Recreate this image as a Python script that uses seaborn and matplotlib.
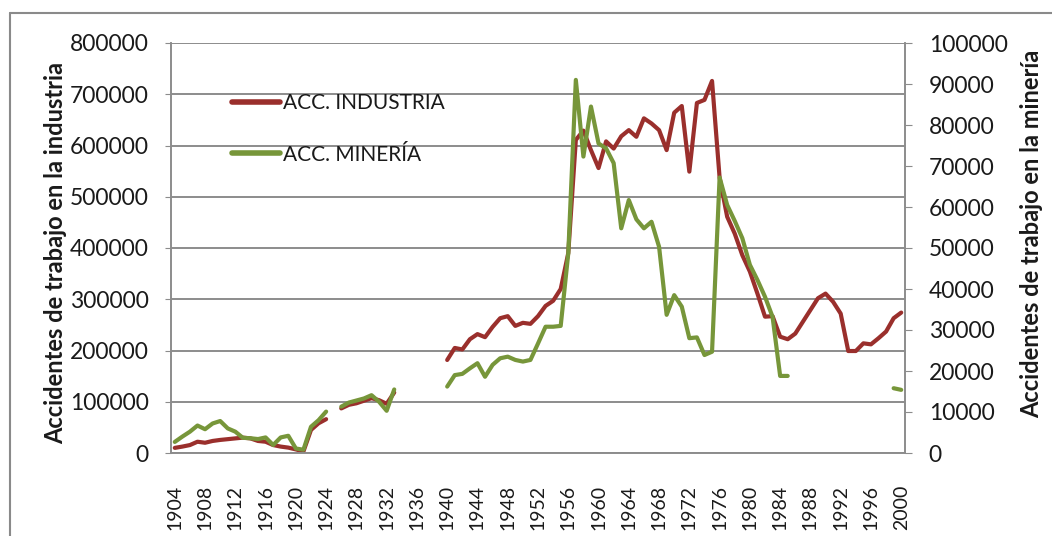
import numpy as np
import pandas as pd
import matplotlib
matplotlib.use('Agg')
import matplotlib.pyplot as plt
from matplotlib.lines import Line2D
import seaborn as sns

# data (NaN = no data)
years = list(range(1904, 2001))

industria = [
    10000, 12500, 15500, 22000, 20000, 23500, 25500, 27000, 28500, 30000,   # 1904-1913
    28500, 23500, 22000, 15500, 12500, 10500, 7000, 3000, 45000, 58000,     # 1914-1923
    66000, np.nan, 87000, 94000, 97000, 102000, 107000, 103000, 96000, 118000,  # 1924-1933
    np.nan, np.nan, np.nan, np.nan, np.nan, np.nan,                          # 1934-1939
    181500, 205000, 202000, 222000, 232000, 226000, 246000, 263000, 267000, 248000,  # 1940-1949
    254000, 252000, 267000, 287000, 297000, 320000, 390000, 611000, 629000, 591000,  # 1950-1959
    556000, 608000, 594000, 618000, 630000, 617000, 653000, 643000, 630000, 591000,  # 1960-1969
    664000, 677000, 549000, 683000, 689000, 726000, 537000, 461000, 428000, 386000,  # 1970-1979
    354000, 311000, 266000, 267000, 227000, 222000, 233000, 256000, 279000, 302000,  # 1980-1989
    311000, 295000, 272000, 199000, 199000, 214000, 212000, 224000, 237000, 263000,  # 1990-1999
    274000,                                                                   # 2000
]

mineria = [
    2700, 4000, 5200, 6700, 5800, 7200, 7800, 6000, 5200, 3700,             # 1904-1913
    3600, 3400, 3800, 1950, 3800, 4200, 1100, 800, 6400, 8000,              # 1914-1923
    10100, np.nan, 11300, 12300, 12800, 13300, 14100, 12500, 10300, 15500,   # 1924-1933
    np.nan, np.nan, np.nan, np.nan, np.nan, np.nan,                          # 1934-1939
    16200, 19000, 19300, 20650, 21900, 18600, 21500, 23100, 23500, 22700,    # 1940-1949
    22300, 22700, 26700, 30800, 30800, 31000, 48700, 91000, 72300, 84500,    # 1950-1959
    75500, 74300, 70700, 54800, 61700, 57000, 54800, 56400, 50300, 33700,    # 1960-1969
    38500, 35700, 28000, 28200, 23900, 24700, 67200, 60500, 56600, 52400,    # 1970-1979
    45900, 42200, 38100, 33200, 18800, 18800, np.nan, np.nan, np.nan, np.nan,  # 1980-1989
    np.nan, np.nan, np.nan, np.nan, np.nan, np.nan, np.nan, np.nan, np.nan, 15800,  # 1990-1999
    15400,                                                                   # 2000
]

df = pd.DataFrame({'year': years, 'industria': industria, 'mineria': mineria})

red = '#9a2f2c'
green = '#77963a'
grid_col = '#8c8c8c'
text_col = '#1a1a1a'

sns.set_style('white')
plt.rcParams['font.family'] = ['Lato', 'DejaVu Sans']


def segments(col):
    # split a series at the gaps so lines are not joined across missing years
    seg_id = df[col].isna().cumsum()
    for _, part in df[df[col].notna()].groupby(seg_id[df[col].notna()]):
        yield part


fig = plt.figure(figsize=(10.52, 5.36), dpi=100)
ax = fig.add_axes([171 / 1052, 83 / 536, 734 / 1052, 410 / 536])
ax2 = ax.twinx()

for part in segments('industria'):
    sns.lineplot(data=part, x='year', y='industria', color=red, linewidth=3,
                 ax=ax, legend=False, solid_capstyle='round')
for part in segments('mineria'):
    sns.lineplot(data=part, x='year', y='mineria', color=green, linewidth=3,
                 ax=ax2, legend=False, solid_capstyle='round')

# axes ranges and ticks
ax.set_xlim(1903.5, 2000.5)
ax.set_ylim(0, 800000)
ax2.set_ylim(0, 100000)
ax.set_xticks(years[::4])
ax.set_xticklabels([str(y) for y in years[::4]], rotation=90)
ax.set_yticks(range(0, 800001, 100000))
ax2.set_yticks(range(0, 100001, 10000))

ax.yaxis.grid(True, color=grid_col, linewidth=1.4)
ax.xaxis.grid(False)
ax.set_axisbelow(True)

for a in (ax, ax2):
    for side, sp in a.spines.items():
        sp.set_color(grid_col)
        sp.set_linewidth(1.2)
    a.spines['top'].set_visible(False)

ax.tick_params(axis='y', length=4, color=grid_col, pad=12, labelsize=16.5, labelcolor=text_col)
ax.tick_params(axis='x', length=0, pad=23, labelsize=14, labelcolor=text_col)
ax2.tick_params(axis='y', length=5, color=grid_col, pad=12, labelsize=16.5, labelcolor=text_col)
ax2.set_xlabel('')

ax.set_xlabel('')
ax.set_ylabel('Accidentes de trabajo en la industria', fontsize=17,
              fontweight='bold', color=text_col)
ax2.set_ylabel('Accidentes de trabajo en la minería', fontsize=17,
               fontweight='bold', color=text_col)
ax.yaxis.set_label_coords(-0.1417, 0.488)
ax2.yaxis.set_label_coords(1.157, 0.534)

handles = [Line2D([], [], color=red, linewidth=4),
           Line2D([], [], color=green, linewidth=4)]
ax2.legend(handles, ['ACC. INDUSTRIA', 'ACC. MINERÍA'], loc='upper left',
           bbox_to_anchor=(0.058, 0.923), frameon=False, fontsize=15,
           handlelength=2.3, handletextpad=0.15, labelspacing=1.5,
           labelcolor=text_col)

# outer chart border (left and top only are visible in the crop)
fig.add_artist(Line2D([10 / 1052, 10 / 1052], [0, 1 - 13 / 536],
                      transform=fig.transFigure, color='#8a8a8a', linewidth=1.5))
fig.add_artist(Line2D([10 / 1052, 1], [1 - 13 / 536, 1 - 13 / 536],
                      transform=fig.transFigure, color='#8a8a8a', linewidth=1.5))

fig.savefig('out.png', dpi=100)
